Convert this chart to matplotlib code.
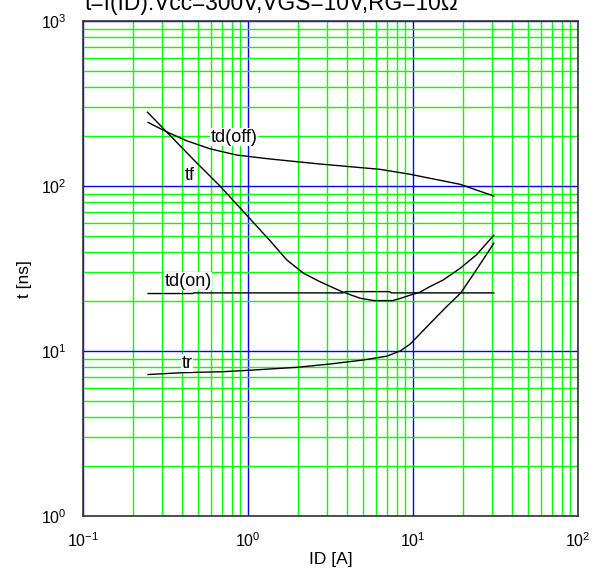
import matplotlib
matplotlib.use("Agg")
import matplotlib.pyplot as plt
from matplotlib.ticker import LogLocator, NullFormatter

plt.rcParams['font.family'] = ['Liberation Sans', 'DejaVu Sans']
plt.rcParams['mathtext.fontset'] = 'custom'
plt.rcParams['mathtext.rm'] = 'Liberation Sans'
plt.rcParams['axes.unicode_minus'] = False

title = "t=f(ID):Vcc=300V,VGS=10V,RG=10Ω"
xlabel = "ID [A]"
ylabel = "t [ns]"

td_off_id = [0.248, 0.321, 0.425, 0.589, 0.854, 1.36, 2.73, 6.3, 9.6, 13.6, 19.3, 24.2, 30.9]
td_off_t = [243, 213, 188, 168, 154, 145.8, 135.9, 126.2, 117.8, 109.8, 102.4, 94.6, 86.9]

tf_id = [0.246, 0.321, 0.466, 0.676, 0.98, 1.36, 1.72, 2.17, 2.73, 3.7, 4.77, 5.8, 7.5, 8.35,
         9.6, 11.0, 12.6, 15.2, 19.3, 24.2, 30.9]
tf_t = [280, 213, 145, 100, 66.7, 46.6, 35.6, 29.6, 26.3, 22.9, 20.9, 20.2, 20.2, 20.8,
        21.8, 22.7, 24.5, 26.9, 31.7, 38.2, 50.3]

td_on_id = [0.248, 0.46, 0.47, 3.77, 3.9, 7.2, 7.4, 30.9]
td_on_t = [22.3, 22.3, 22.5, 22.5, 22.9, 22.9, 22.5, 22.5]

tr_id = [0.248, 0.40, 0.707, 1.08, 1.97, 3.14, 5.0, 6.92, 8.35, 9.6, 12.7, 16.0, 19.5, 24.2, 30.9]
tr_t = [7.2, 7.39, 7.49, 7.67, 7.96, 8.34, 8.82, 9.3, 10.0, 11.0, 14.7, 18.6, 22.5, 31, 45]

labels = ["td(off)", "tf", "td(on)", "tr"]
label_xy = [(0.822, 198), (0.445, 116), (0.433, 26.5), (0.427, 8.45)]

fig = plt.figure(figsize=(6.03, 5.71), dpi=100)
ax = fig.add_axes([83/603, 1-516/571, 495/603, 495/571])
ax.set_xscale('log')
ax.set_yscale('log')
ax.set_xlim(0.1, 100)
ax.set_ylim(1, 1000)

ax.xaxis.set_minor_locator(LogLocator(base=10, subs=range(2, 10)))
ax.yaxis.set_minor_locator(LogLocator(base=10, subs=range(2, 10)))
ax.xaxis.set_minor_formatter(NullFormatter())
ax.yaxis.set_minor_formatter(NullFormatter())
ax.grid(True, which='minor', color='#00ff00', lw=1.0)
ax.grid(True, which='major', color='#0000ff', lw=1.0)
ax.set_axisbelow(True)
ax.tick_params(which='both', length=0, labelsize=11.5)
ax.tick_params(axis='y', pad=12)
ax.tick_params(axis='x', pad=11)
for s in ax.spines.values():
    s.set_color('#333333')
    s.set_linewidth(1.2)

for xs, ys in [(td_off_id, td_off_t), (tf_id, tf_t), (td_on_id, td_on_t), (tr_id, tr_t)]:
    ax.plot(xs, ys, color='black', lw=1.0)

for lab, (x, y) in zip(labels, label_xy):
    ax.text(x, y, lab, fontsize=13, ha='center', va='center',
            bbox=dict(facecolor='white', edgecolor='none', pad=0.5))

ax.set_xlabel(xlabel, fontsize=12.5)
ax.set_ylabel(ylabel, fontsize=12.5)
ax.xaxis.set_label_coords(0.5, -0.0727)
ax.yaxis.set_label_coords(-0.1036, 0.479)
fig.text(85/603, 1-10/571, title, fontsize=16.4, ha='left', va='baseline')

fig.savefig("out.png", dpi=100)
